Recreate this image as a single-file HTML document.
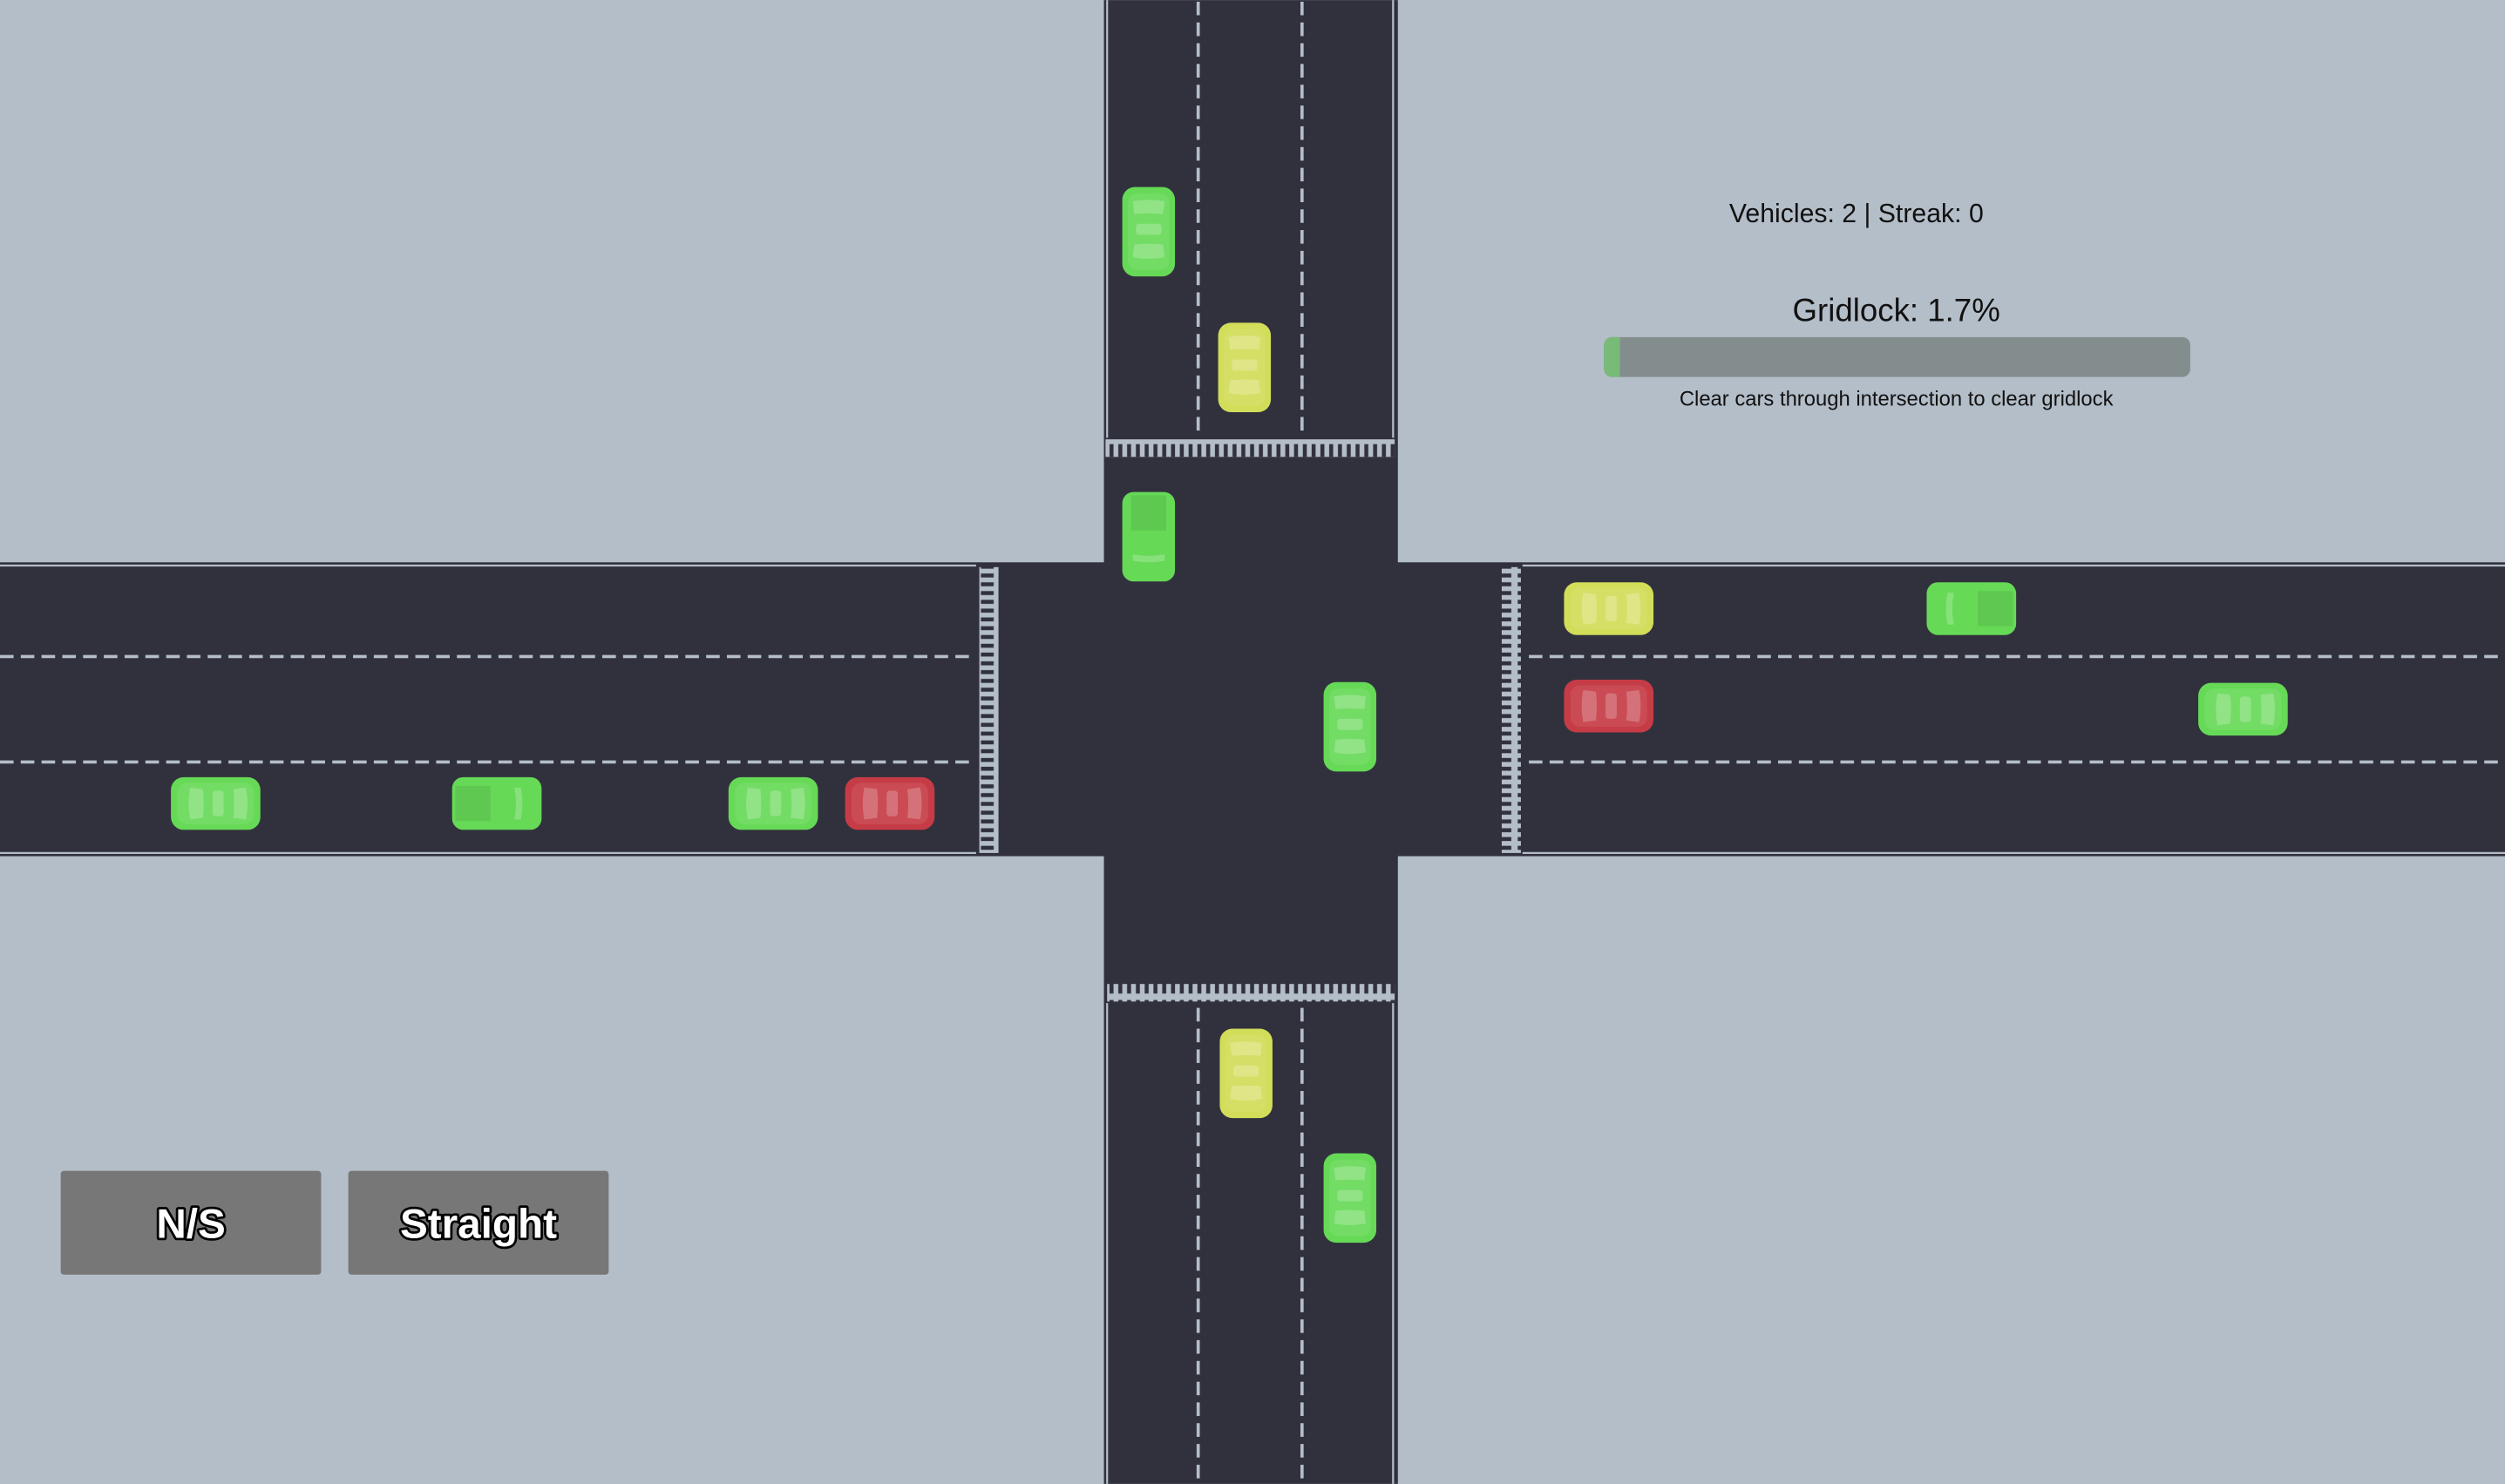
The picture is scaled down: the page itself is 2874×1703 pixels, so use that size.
<!DOCTYPE html>
<html><head><meta charset="utf-8"><style>
html,body{margin:0;padding:0;background:#b4bec9;overflow:hidden}
svg{display:block}
</style></head><body>
<svg width="2874" height="1703" viewBox="0 0 1568 929" xmlns="http://www.w3.org/2000/svg">
<defs>
<g id="car">
  <rect x="-16.5" y="-28" width="33" height="56" rx="8" fill="currentColor"/>
  <rect x="-13" y="-24" width="26" height="48" rx="6" fill="#fff" opacity="0.08"/>
  <path d="M-10 -19 Q0 -21 10 -19 L9 -11 Q0 -12 -9 -11 Z" fill="#fff" opacity="0.22"/>
  <rect x="-8" y="-5" width="16" height="7" rx="2" fill="#fff" opacity="0.22"/>
  <path d="M-9 8 Q0 7 9 8 L10 16 Q0 18 -10 16 Z" fill="#fff" opacity="0.22"/>
</g>
<g id="truck">
  <rect x="-16.5" y="-28" width="33" height="56" rx="7" fill="currentColor"/>
  <rect x="-11" y="-26" width="22" height="22" fill="#000" opacity="0.08"/>
  <path d="M-10 11 Q0 13 10 11 L10 15 Q0 17 -10 15 Z" fill="#fff" opacity="0.22"/>
</g>
<pattern id="cwH" width="5.5" height="12" patternUnits="userSpaceOnUse">
  <rect width="5.5" height="12" fill="#b4bec9"/>
  <rect x="1.5" y="2" width="2.5" height="8" fill="#31313d"/>
</pattern>
<pattern id="cwV" width="12" height="5.5" patternUnits="userSpaceOnUse">
  <rect width="12" height="5.5" fill="#b4bec9"/>
  <rect x="2" y="1.5" width="8" height="2.5" fill="#31313d"/>
</pattern>
</defs>
<rect width="1568" height="929" fill="#b4bec9"/>
<rect x="691" y="0" width="184" height="929" fill="#31313d"/>
<rect x="0" y="352" width="1568" height="184" fill="#31313d"/>
<g stroke="#b4bec9" stroke-width="1.2">
  <line x1="693" y1="0" x2="693" y2="274"/><line x1="872" y1="0" x2="872" y2="274"/>
  <line x1="693" y1="628" x2="693" y2="929"/><line x1="872" y1="628" x2="872" y2="929"/>
  <line x1="0" y1="354" x2="611" y2="354"/><line x1="0" y1="534" x2="611" y2="534"/>
  <line x1="953" y1="354" x2="1568" y2="354"/><line x1="953" y1="534" x2="1568" y2="534"/>
</g>
<g stroke="#b4bec9" stroke-width="2" stroke-dasharray="8.5 4.5">
  <line x1="750" y1="1" x2="750" y2="272"/><line x1="815" y1="1" x2="815" y2="272"/>
  <line x1="750" y1="631" x2="750" y2="929"/><line x1="815" y1="631" x2="815" y2="929"/>
  <line x1="0" y1="411" x2="610" y2="411"/><line x1="0" y1="477" x2="610" y2="477"/>
  <line x1="957" y1="411" x2="1568" y2="411"/><line x1="957" y1="477" x2="1568" y2="477"/>
</g>
<rect x="692" y="275" width="181" height="11" fill="url(#cwH)"/>
<rect x="693" y="616" width="180" height="11" fill="url(#cwH)"/>
<rect x="613" y="355" width="12" height="179" fill="url(#cwV)"/>
<rect x="940" y="355" width="12" height="179" fill="url(#cwV)"/>
<use href="#car" x="719" y="145" color="#66d957"/>
<use href="#car" x="779" y="230" color="#d2dd5a"/>
<use href="#truck" transform="translate(719 336)" color="#66d957"/>
<use href="#car" x="845" y="455" color="#66d957"/>
<use href="#car" x="780" y="672" color="#d2dd5a"/>
<use href="#car" x="845" y="750" color="#66d957"/>
<use href="#car" transform="translate(135 503) rotate(90)" color="#66d957"/>
<use href="#truck" transform="translate(311 503) rotate(-90)" color="#66d957"/>
<use href="#car" transform="translate(484 503) rotate(90)" color="#66d957"/>
<use href="#car" transform="translate(557 503) rotate(90)" color="#c63c46"/>
<use href="#car" transform="translate(1007 381) rotate(90)" color="#d2dd5a"/>
<use href="#truck" transform="translate(1234 381) rotate(90)" color="#66d957"/>
<use href="#car" transform="translate(1007 442) rotate(90)" color="#c63c46"/>
<use href="#car" transform="translate(1404 444) rotate(90)" color="#66d957"/>
<g font-family="Liberation Sans, DejaVu Sans, sans-serif" fill="#111" text-anchor="middle">
  <text x="1162" y="139" font-size="16.5">Vehicles: 2 | Streak: 0</text>
  <text x="1187" y="201" font-size="20">Gridlock: 1.7%</text>
  <text x="1187" y="254" font-size="13">Clear cars through intersection to clear gridlock</text>
</g>
<rect x="1004" y="211" width="367" height="25" rx="5" fill="#848d8e"/>
<path d="M1009 211 H1014 V236 H1009 A5 5 0 0 1 1004 231 V216 A5 5 0 0 1 1009 211 Z" fill="#77bb77"/>
<rect x="38" y="733" width="163" height="65" rx="2" fill="#777777"/>
<rect x="218" y="733" width="163" height="65" rx="2" fill="#777777"/>
<g font-family="Liberation Sans, DejaVu Sans, sans-serif" font-size="26" font-weight="bold" fill="#fff" stroke="#000" stroke-width="3" paint-order="stroke" stroke-linejoin="round" text-anchor="middle">
  <text x="119.5" y="775">N/S</text>
  <text x="299.5" y="775">Straight</text>
</g>
</svg>
</body></html>
